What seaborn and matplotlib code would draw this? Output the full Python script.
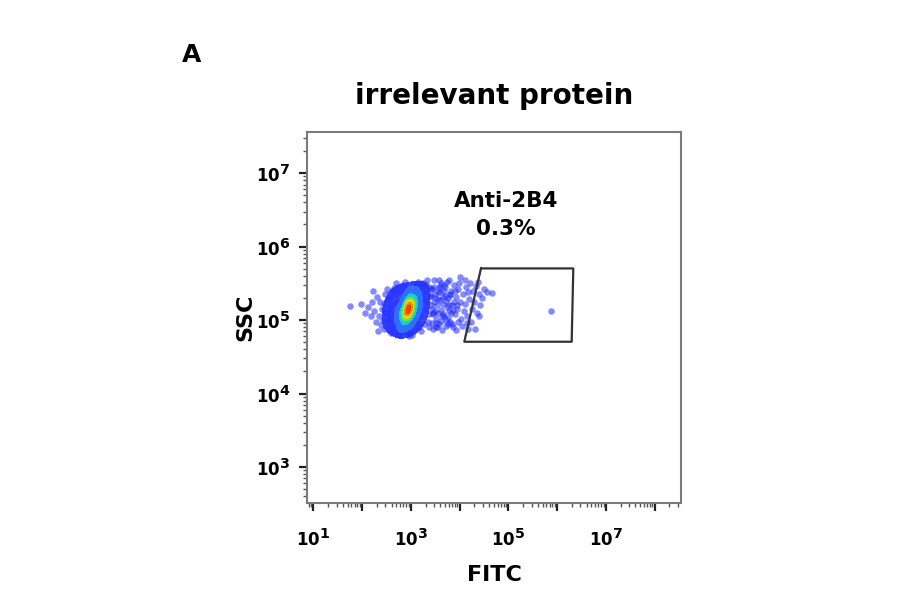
import numpy as np
import pandas as pd
import seaborn as sns
import matplotlib
matplotlib.use('Agg')
import matplotlib.pyplot as plt
import matplotlib._mathtext as mathtext_internal
from matplotlib.colors import LinearSegmentedColormap, ListedColormap
from matplotlib.ticker import FixedLocator, FuncFormatter, NullFormatter

# events, stored as log10(FITC) / log10(SSC)
core_fitc = [2.95, 2.97, 2.93, 2.99, 2.91, 2.96, 2.94, 3.00, 2.90, 2.98, 2.92, 3.02, 2.88, 2.95, 2.95,
             3.04, 2.86, 3.01, 2.89, 2.97, 2.93, 3.06, 2.84, 3.03, 2.87, 2.99, 2.91, 3.08, 2.82, 2.96,
             2.94, 3.10, 2.80, 3.05, 2.85, 3.00, 2.90, 3.12, 2.78, 2.92, 2.98, 3.07, 2.83, 3.14, 2.76,
             3.03, 2.88, 2.97, 2.86, 3.09]
core_ssc = [5.15, 5.17, 5.13, 5.19, 5.11, 5.12, 5.18, 5.15, 5.14, 5.21, 5.08, 5.22, 5.09, 5.24, 5.06,
            5.18, 5.12, 5.11, 5.19, 5.09, 5.21, 5.25, 5.05, 5.27, 5.03, 5.03, 5.26, 5.20, 5.10, 5.29,
            5.01, 5.28, 5.02, 5.12, 5.17, 5.31, 4.99, 5.23, 5.07, 5.30, 4.98, 5.33, 4.97, 5.17, 5.13,
            5.06, 5.24, 5.35, 4.95, 5.08]

ring_fitc = [2.70, 2.72, 3.18, 3.20, 2.65, 3.25, 2.68, 2.75, 3.15, 3.28, 2.60, 2.62, 3.22, 2.58, 3.30,
             2.78, 2.80, 3.12, 2.55, 3.33, 2.52, 2.50, 3.36, 2.73, 2.85, 3.10, 2.48, 3.38, 2.45, 2.64,
             3.26, 2.90, 2.92, 3.05, 2.42, 3.40, 2.57, 2.68, 3.16, 2.40, 3.42, 2.82, 2.98, 3.24, 2.38,
             2.55, 3.35, 2.62, 2.77, 3.08, 2.47, 3.30, 2.35, 2.70, 3.02, 3.44, 2.53, 3.20, 2.44, 2.88,
             3.45, 2.66, 3.14, 2.36, 2.74, 3.38, 2.50, 3.32, 2.60, 2.95]
ring_ssc = [5.25, 4.93, 5.35, 5.05, 5.10, 5.30, 5.35, 4.88, 5.42, 5.15, 5.20, 4.98, 5.45, 5.05, 5.38,
            5.40, 4.85, 4.98, 5.15, 5.25, 5.28, 4.95, 5.45, 5.45, 4.86, 5.48, 5.10, 5.08, 5.22, 4.90,
            4.95, 5.44, 4.83, 5.47, 5.00, 5.33, 5.32, 4.84, 4.90, 5.15, 5.20, 5.48, 4.82, 5.50, 4.93,
            4.88, 4.98, 5.40, 4.80, 4.86, 5.35, 5.48, 5.05, 5.50, 4.80, 5.42, 5.00, 4.85, 4.88, 5.52,
            5.10, 5.44, 5.52, 5.25, 4.79, 4.90, 5.42, 5.55, 4.82, 4.78]

tail_fitc = [3.50, 3.55, 3.48, 3.60, 3.58, 3.65, 3.52, 3.70, 3.68, 3.75, 3.62, 3.78, 3.72, 3.82, 3.85,
             3.80, 3.88, 3.90, 3.93, 3.86, 3.97, 3.95, 4.00, 4.02, 3.99, 4.06, 4.08, 4.04, 4.12, 4.10,
             4.15, 4.18, 4.14, 4.20, 4.22, 4.25, 4.28, 4.24, 4.30, 4.33, 4.36, 4.32, 4.40, 4.42, 4.38,
             4.46, 4.50, 4.40, 3.57, 3.64, 3.77, 3.92, 4.00, 4.17, 4.55, 3.46, 3.53, 3.73, 3.96, 4.10,
             4.66, 3.44, 3.49, 3.56, 3.61, 3.67, 3.71, 3.76, 3.83, 3.89, 3.63, 3.59, 3.81, 3.69, 3.54,
             3.41, 3.43, 3.47, 3.51, 3.45, 3.58, 3.62, 3.66, 3.74, 3.79, 3.84, 3.91, 3.42, 3.50, 3.55,
             3.68, 3.72, 3.87, 3.47, 3.60, 3.80, 3.94, 3.52, 3.65, 3.75]
tail_ssc = [5.30, 5.10, 5.45, 5.38, 4.95, 5.22, 5.02, 5.45, 5.05, 5.30, 5.50, 5.12, 4.92, 5.40, 5.20,
            4.98, 5.48, 5.08, 5.32, 4.90, 5.42, 5.15, 5.25, 5.02, 5.50, 5.35, 5.12, 4.92, 5.45, 5.22,
            5.05, 5.38, 4.96, 5.28, 5.50, 5.15, 5.40, 4.98, 5.25, 5.46, 5.10, 4.88, 5.35, 5.20, 5.52,
            5.30, 5.42, 5.05, 5.55, 4.86, 5.55, 4.86, 5.58, 4.88, 5.38, 4.88, 5.20, 5.18, 4.98, 5.55,
            5.37, 5.15, 5.36, 5.28, 5.14, 5.40, 5.26, 5.03, 5.10, 5.24, 5.06, 5.46, 5.34, 5.33, 4.91,
            5.42, 4.96, 5.25, 4.90, 5.08, 5.44, 4.99, 5.31, 5.52, 5.21, 4.95, 5.40, 5.33, 5.12, 5.38,
            5.48, 5.00, 5.14, 5.55, 5.27, 5.35, 5.20, 4.96, 5.08, 4.94]

sparse_fitc = [2.30, 2.28, 2.25, 2.20, 2.18, 2.12, 2.05, 2.32, 2.22, 1.98, 1.75, 5.87]
sparse_ssc = [5.32, 4.98, 5.12, 5.25, 5.05, 5.18, 5.10, 4.85, 5.40, 5.22, 5.19, 5.12]

# Anti-2B4 gate (log10 corners)
gate_fitc = [4.436, 6.33, 6.297, 4.094]
gate_ssc = [5.703, 5.703, 4.705, 4.705]
gate_label = 'Anti-2B4\n0.3%'

df = pd.DataFrame({
    'FITC': 10 ** np.array(core_fitc + ring_fitc + tail_fitc + sparse_fitc),
    'SSC': 10 ** np.array(core_ssc + ring_ssc + tail_ssc + sparse_ssc),
})
df_main = pd.DataFrame({
    'FITC': 10 ** np.array(core_fitc + ring_fitc),
    'SSC': 10 ** np.array(core_ssc + ring_ssc),
})
df_core = pd.DataFrame({
    'FITC': 10 ** np.array(core_fitc),
    'SSC': 10 ** np.array(core_ssc),
})

sns.set_style('ticks')
plt.rcParams['font.family'] = ['DejaVu Sans']
plt.rcParams['font.weight'] = 'bold'
plt.rcParams['text.color'] = 'black'
plt.rcParams['mathtext.fontset'] = 'custom'
plt.rcParams['mathtext.rm'] = 'DejaVu Sans:bold'
plt.rcParams['mathtext.bf'] = 'DejaVu Sans:bold'
# bigger superscripts, like the cytometer export
mathtext_internal.SHRINK_FACTOR = 0.85

fig = plt.figure(figsize=(9, 5.94), dpi=100)
ax = fig.add_axes([0.3411, 0.1532, 0.4156, 0.6246])

flow_cmap = LinearSegmentedColormap.from_list(
    'flow', ['#2a3cff', '#2f7aff', '#12c8f5', '#35e055', '#e8f000', '#ff8a00', '#e2300c'])

sns.scatterplot(data=df, x='FITC', y='SSC', s=22, color='#1f2bff', alpha=0.55,
                linewidth=0, ax=ax, zorder=2)
# solid blue body of the population
sns.kdeplot(data=df_main, x='FITC', y='SSC', log_scale=(True, True), fill=True,
            levels=[0.3, 1.0], cmap=ListedColormap(['#2530ff']), alpha=0.9,
            bw_adjust=1.5, gridsize=250, ax=ax, zorder=3)
# pseudocolour peak
sns.kdeplot(data=df_core, x='FITC', y='SSC', log_scale=(True, True), fill=True,
            levels=[0.02, 0.25, 0.45, 0.62, 0.78, 0.91, 1.0], cmap=flow_cmap,
            bw_adjust=1.35, gridsize=250, ax=ax, zorder=4)

gx = 10 ** np.array(gate_fitc + gate_fitc[:1])
gy = 10 ** np.array(gate_ssc + gate_ssc[:1])
ax.plot(gx, gy, color='#333333', lw=1.6, zorder=5)
ax.text(10 ** 4.95, 10 ** 6.43, gate_label, ha='center', va='center',
        fontsize=15.5, fontweight='bold', linespacing=1.45)

ax.set_xscale('log')
ax.set_yscale('log')
ax.set_xlim(10 ** 0.867, 10 ** 8.54)
ax.set_ylim(10 ** 2.51, 10 ** 7.56)

x_labelled = [1, 3, 5, 7]
x_fmt = FuncFormatter(lambda v, p: r'$\mathbf{10^{%d}}$' % round(np.log10(v))
                      if round(np.log10(v)) in x_labelled else '')
y_fmt = FuncFormatter(lambda v, p: r'$\mathbf{10^{%d}}$' % round(np.log10(v)))
ax.xaxis.set_major_locator(FixedLocator([10.0 ** k for k in range(1, 9)]))
ax.xaxis.set_major_formatter(x_fmt)
ax.xaxis.set_minor_locator(FixedLocator([m * 10.0 ** k for k in range(0, 9) for m in range(2, 10)]))
ax.xaxis.set_minor_formatter(NullFormatter())
ax.yaxis.set_major_locator(FixedLocator([10.0 ** k for k in [3, 4, 5, 6, 7]]))
ax.yaxis.set_major_formatter(y_fmt)
ax.yaxis.set_minor_locator(FixedLocator([m * 10.0 ** k for k in range(2, 8) for m in range(2, 10)]))
ax.yaxis.set_minor_formatter(NullFormatter())

ax.tick_params(which='major', length=6, width=1.6, color='#222222', labelsize=12,
               labelcolor='black', pad=6)
ax.tick_params(axis='x', which='major', pad=12)
ax.tick_params(which='minor', length=3, width=1.0, color='#555555')
for sp in ax.spines.values():
    sp.set_color('#7a7a7a')
    sp.set_linewidth(1.5)

ax.set_xlabel('FITC', fontsize=16, fontweight='bold', labelpad=11, color='black')
ax.set_ylabel('SSC', fontsize=16, fontweight='bold', labelpad=0, color='black')
ax.set_title('irrelevant protein', fontsize=20, fontweight='bold', pad=20, color='black')
fig.text(182 / 900, 1 - 43 / 594, 'A', fontsize=18, fontweight='bold', ha='left', va='top')

fig.savefig('out.png', dpi=100)
